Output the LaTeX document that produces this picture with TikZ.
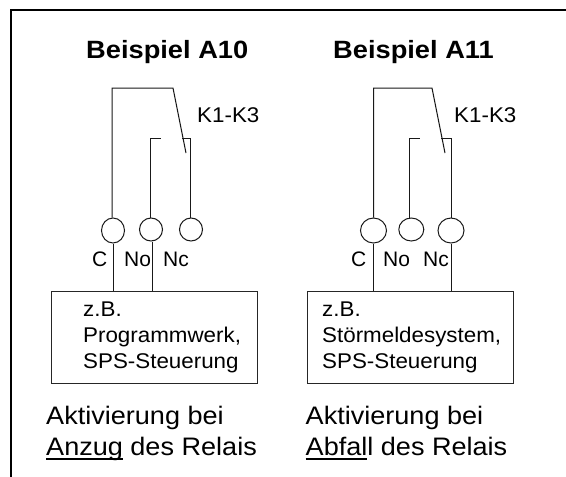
\documentclass[tikz,border=0pt]{standalone}
\usepackage{fontspec}
\usetikzlibrary{shapes.geometric}
\setmainfont{Liberation Sans}
\newfontfamily\capfont[FakeStretch=1.07]{Liberation Sans}
\newfontfamily\boxfont[FakeStretch=1.05]{Liberation Sans}
\newfontfamily\titfont[FakeStretch=1.09,BoldFont={Liberation Sans Bold}]{Liberation Sans}
\newcommand\thickul[1]{\setbox0=\hbox{#1}\rlap{\rule[-5pt]{\wd0}{2pt}}\box0{}}
\tikzset{
  px/.style={x=1pt,y=-1pt},
  wire/.style={draw=black!90,line width=1pt},
  frameline/.style={draw=black,line width=2pt},
  term/.style={ellipse,draw=black!90,line width=1pt,inner sep=0pt,fill=white},
  boxn/.style={draw=black!85,line width=1pt,minimum width=206pt,minimum height=92pt,inner sep=0pt,anchor=north west},
  lab/.style={inner sep=0pt,anchor=base west,font=\fontsize{21pt}{21pt}\selectfont},
  boxtxt/.style={inner sep=0pt,anchor=base west,font=\boxfont\fontsize{21.3pt}{21pt}\selectfont},
  captxt/.style={inner sep=0pt,anchor=base west,font=\capfont\fontsize{25.3pt}{25pt}\selectfont},
  titl/.style={inner sep=0pt,anchor=base west,font=\titfont\fontsize{25pt}{25pt}\selectfont\bfseries}
}
\begin{document}
\begin{tikzpicture}[px]
\useasboundingbox (0,0) rectangle (566,477);
\fill[white] (0,0) rectangle (566,477);
\coordinate (f1) at (11,477); \coordinate (f2) at (11,10); \coordinate (f3) at (566,10);
\draw[frameline] (f1) -- (f2) -- (f3);
\node[titl] (t1) at (86,58) {Beispiel A10};
\node[titl] (t2) at (333,58) {Beispiel A11};
% left relay
\node[term,minimum width=23pt,minimum height=25pt] (c1) at (113,230.5) {};
\node[term,minimum width=23pt,minimum height=23pt] (o1) at (151,229.5) {};
\node[term,minimum width=23pt,minimum height=23pt] (n1) at (191,229.5) {};
\node[boxn] (b1) at (51,291) {};
\coordinate (tl1) at (112,88); \coordinate (tr1) at (173,88); \coordinate (arm1) at (186,153);
\coordinate (no1) at (150,138); \coordinate (nos1) at (161,138);
\coordinate (nc1) at (190,138); \coordinate (ncs1) at (182,138);
\draw[wire] (c1.north -| tl1) -- (tl1) -- (tr1) -- (arm1);
\draw[wire] (o1.north -| no1) -- (no1) -- (nos1);
\draw[wire] (n1.north -| nc1) -- (nc1) -- (ncs1);
\draw[wire] (c1.south) -- (c1.south |- b1.north);
\draw[wire] (o1.south) ++(1,0) -- (152,291);
\node[boxtxt] (k1) at (197,122) {K1-K3};
\node[lab] (lc1) at (92,266) {C};
\node[lab] (lo1) at (124,266) {No};
\node[lab] (ln1) at (163,266) {Nc};
\node[boxtxt] (x1a) at (83,316) {z.B.};
\node[boxtxt] (x1b) at (83,342) {Programmwerk,};
\node[boxtxt] (x1c) at (83,368) {SPS-Steuerung};
\node[captxt] (a1) at (46,424) {Aktivierung bei};
\node[captxt] (a1b) at (46,455) {\thickul{Anzug} des Relais};
% right relay
\node[term,minimum width=26pt,minimum height=25pt] (c2) at (373.5,230.5) {};
\node[term,minimum width=25pt,minimum height=23pt] (o2) at (411.3,229.5) {};
\node[term,minimum width=26pt,minimum height=25pt] (n2) at (451,230.5) {};
\node[boxn] (b2) at (307,291) {};
\coordinate (tl2) at (373.7,88); \coordinate (tr2) at (432,88); \coordinate (arm2) at (445,153);
\coordinate (no2) at (409,138); \coordinate (nos2) at (420,138);
\coordinate (nc2) at (451,138); \coordinate (ncs2) at (441,138);
\draw[wire] (c2.north -| tl2) -- (tl2) -- (tr2) -- (arm2);
\draw[wire] (o2.north -| no2) -- (no2) -- (nos2);
\draw[wire] (n2.north -| nc2) -- (nc2) -- (ncs2);
\draw[wire] (c2.south) -- (c2.south |- b2.north);
\draw[wire] (n2.south) -- (n2.south |- b2.north);
\node[boxtxt] (k2) at (454,122) {K1-K3};
\node[lab] (lc2) at (351,266) {C};
\node[lab] (lo2) at (383,266) {No};
\node[lab] (ln2) at (423,266) {Nc};
\node[boxtxt] (x2a) at (322,316) {z.B.};
\node[boxtxt] (x2b) at (322,342) {Störmeldesystem,};
\node[boxtxt] (x2c) at (322,368) {SPS-Steuerung};
\node[captxt] (a2) at (305.5,424) {Aktivierung bei};
\node[captxt] (a2b) at (305.5,455) {\thickul{Abfal}l des Relais};
\end{tikzpicture}
\end{document}
